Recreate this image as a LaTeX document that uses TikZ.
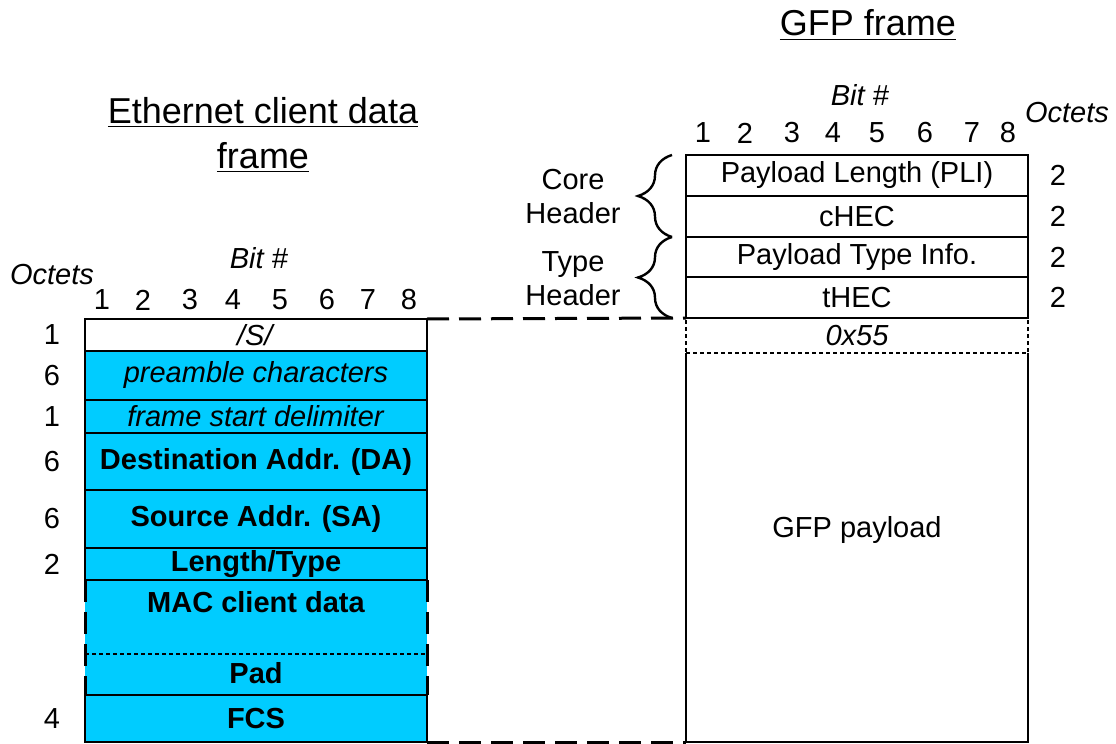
\documentclass[tikz,border=0pt]{standalone}
\usepackage{fontspec}
\setmainfont{Liberation Sans}
\usepackage{xcolor}
\usepackage{tikz}
\usetikzlibrary{positioning,calc,decorations.pathreplacing}
\definecolor{ethcyan}{RGB}{0,204,255}

\begin{document}
\begin{tikzpicture}[x=0.5pt,y=-0.5pt,font=\fontsize{14.5}{17}\selectfont,
  row/.style={minimum width=171pt, minimum height={#1*0.5pt}, inner sep=0pt, outer sep=0pt},
  eth/.style={row=#1, fill=ethcyan, draw, line width=1.2pt},
  gfp/.style={row=#1, draw, line width=1.2pt},
  longdash/.style={line width=1.5pt, dash pattern=on 11pt off 5pt},
  shortdash/.style={line width=1.1pt, dash pattern=on 2pt off 1.5pt},
  hdrbrace/.style={decorate, decoration={brace, amplitude=17pt}, line width=1.2pt},
  title/.style={font=\fontsize{18}{22.5}\selectfont, align=center}]
\useasboundingbox (0,0) rectangle (1116,744);
% Ethernet client data frame: rows in pixel units, fill first then dashed/dotted edges
\node[title] (ethT) at (263,135) {\underline{Ethernet client data}\\\underline{frame}};
\node (lbit) at (259,258) {\textit{Bit \#}};
\node (loct) at (52,275) {\textit{Octets}};
\foreach \x [count=\i] in {102,143,190,233,280,327,368,409}
  \node (lb\i) at (\x,300) {\i};
\node[row=115, fill=ethcyan] (mac) at (256,637.5) {};
\node[eth=32, fill=white] (ss) at (256,335) {\textit{/S/}};
\node[eth=49] (pre) at (256,375.5) {\textit{preamble characters}};
\node[eth=33] (sfd) at (256,416.5) {\textit{frame start delimiter}};
\node[eth=57] (da) at (256,461.5) {\bfseries Destination Addr. (DA)};
\node[eth=58] (sa) at (256,519) {\bfseries Source Addr. (SA)};
\node[eth=32] (lt) at (256,564) {\bfseries Length/Type};
\node[eth=47] (fcs) at (256,718.5) {\bfseries FCS};
\node (macT) at (256,602) {\bfseries MAC client data};
\node (padT) at (256,673) {\bfseries Pad};
\coordinate (padtop) at (256,654);
\draw[shortdash] (mac.west |- padtop) -- (mac.east |- padtop);
\draw[longdash] (lt.south west) -- (fcs.north west);
\draw[longdash] (lt.south east) -- (fcs.north east);
\coordinate (lcol) at (52,0);
\foreach \r/\n in {ss/1,pre/6,sfd/1,da/6,sa/6,lt/2,fcs/4}
  \node (o\r) at (lcol |- \r) {\n};
% GFP frame
\node[title] (gfpT) at (868,25) {\underline{GFP frame}};
\node (rbit) at (860,95) {\textit{Bit \#}};
\node (roct) at (1067,113) {\textit{Octets}};
\foreach \x [count=\i] in {703,745,792,833,877,925,972,1008}
  \node (rb\i) at (\x,133) {\i};
\node[row=35, draw, shortdash] (sync) at (857,335.5) {\textit{0x55}};
\node[gfp=41] (pli) at (857,175.5) {Payload Length (PLI)};
\node[gfp=41] (chec) at (857,216.5) {cHEC};
\node[gfp=40] (pti) at (857,257) {Payload Type Info.};
\node[gfp=41] (thec) at (857,297.5) {tHEC};
\node[row=389] (pay) at (857,547.5) {};
\draw[line width=1.2pt] (pay.north west) -- (pay.south west) -- (pay.south east) -- (pay.north east);
\node (payT) at (857,530) {GFP payload};
\coordinate (rcol) at (1058,0);
\foreach \r in {pli,chec,pti,thec}
  \node (o\r) at (rcol |- \r) {2};
% header braces
\draw[hdrbrace] ($(chec.south west)+(-14,0)$) -- ($(pli.north west)+(-14,0)$);
\draw[hdrbrace] ($(thec.south west)+(-14,0)$) -- ($(pti.north west)+(-14,0)$);
\node[align=center] (core) at (573,197) {Core\\Header};
\node[align=center] (type) at (573,279) {Type\\Header};
% mapping lines
\draw[longdash] (ss.north east) -- (sync.north west);
\draw[longdash] (fcs.south east) -- (pay.south west);
\end{tikzpicture}
\end{document}
